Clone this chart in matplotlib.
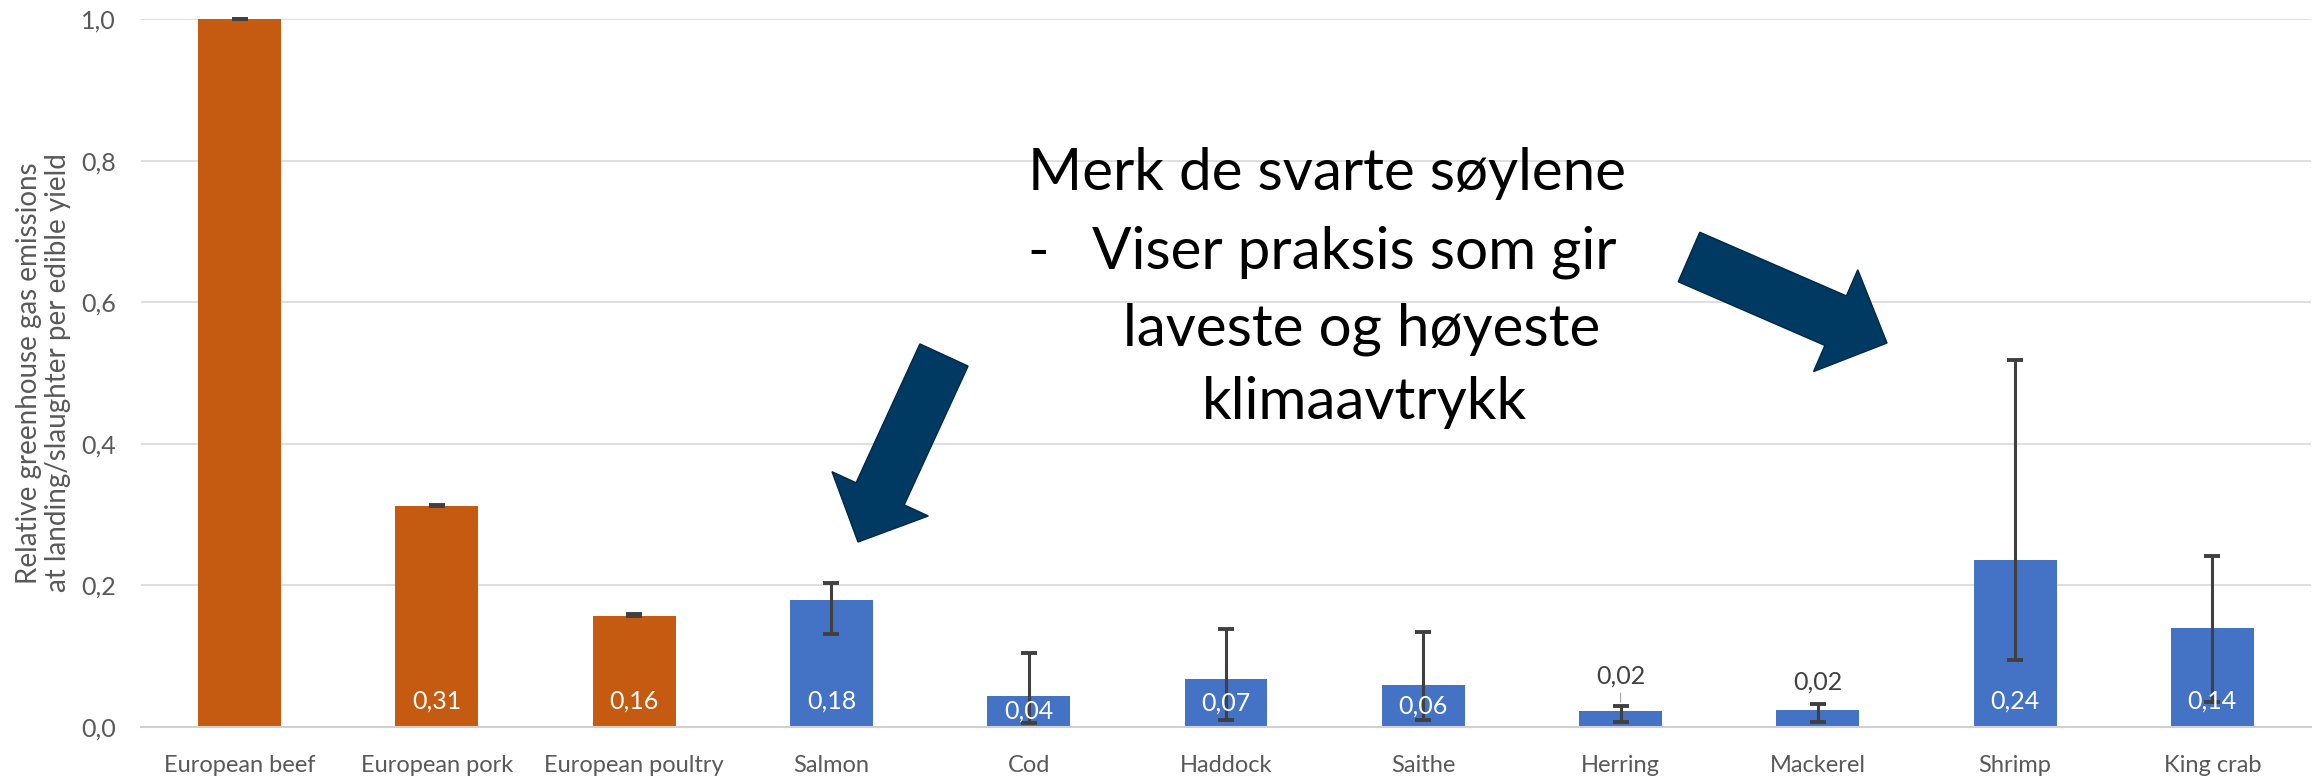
#!/usr/bin/env python3
"""
Relative greenhouse gas emissions per edible yield, meat vs seafood,
with min/max error bars and a Norwegian annotation.
"""

import matplotlib
matplotlib.use("Agg")
import matplotlib.pyplot as plt
import matplotlib.patches as mpatches
from matplotlib.transforms import IdentityTransform
import numpy as np

# Data
categories = ['European beef', 'European pork', 'European poultry', 'Salmon', 'Cod',
              'Haddock', 'Saithe', 'Herring', 'Mackerel', 'Shrimp', 'King crab']
values = [1.0, 0.312, 0.157, 0.179, 0.044, 0.068, 0.060, 0.022, 0.024, 0.236, 0.140]
err_low = [1.0, 0.312, 0.157, 0.132, 0.006, 0.0095, 0.0095, 0.0075, 0.0075, 0.095, 0.035]
err_high = [1.0, 0.313, 0.160, 0.204, 0.105, 0.139, 0.134, 0.029, 0.032, 0.519, 0.242]
labels = ['', '0,31', '0,16', '0,18', '0,04', '0,07', '0,06', '0,02', '0,02', '0,24', '0,14']
group = ['meat'] * 3 + ['fish'] * 8

# labels placed above the bar (in points above the error bar top)
outside_labels = {7: 22, 8: 16}

W, H = 2323, 778
ORANGE = '#C55A11'
BLUE = '#4472C4'
NAVY = '#003A63'
GREY_TXT = '#595959'
FONT = ['Lato', 'DejaVu Sans']


def px(x, y):
    """pixel coords (top-left origin) -> figure fraction"""
    return x / W, 1 - y / H


def main():
    plt.rcParams['font.family'] = FONT

    fig = plt.figure(figsize=(W / 100, H / 100), dpi=100)
    ax = fig.add_axes([141 / W, 51 / H, 2170 / W, 708 / H])

    x = np.arange(len(categories))
    colors = [ORANGE if g == 'meat' else BLUE for g in group]
    ax.bar(x, values, width=0.42, color=colors, zorder=2)

    vals = np.array(values)
    yerr = np.vstack([vals - np.array(err_low), np.array(err_high) - vals])
    ax.errorbar(x, vals, yerr=yerr, fmt='none', ecolor='#404040',
                elinewidth=2.2, capsize=6, capthick=2.8, zorder=3, clip_on=False)

    # data labels
    for i, (v, lab) in enumerate(zip(values, labels)):
        if not lab:
            continue
        if i in outside_labels:
            arrow = dict(arrowstyle='-', color='#A6A6A6', lw=0.8,
                         shrinkA=2, shrinkB=3) if i == 7 else None
            ax.annotate(lab, xy=(i, err_high[i]), xytext=(0, outside_labels[i]),
                        textcoords='offset points', ha='center', va='center',
                        fontsize=18, color='#404040', arrowprops=arrow, zorder=4)
        else:
            ax.text(i, min(0.036, v / 2), lab, ha='center', va='center',
                    fontsize=18, color='white', zorder=4)

    # axes styling
    ax.set_ylim(0, 1.0)
    ax.set_xlim(-0.5, len(categories) - 0.5)
    ticks = np.arange(0, 1.01, 0.2)
    ax.set_yticks(ticks)
    ax.set_yticklabels([f'{t:.1f}'.replace('.', ',') for t in ticks])
    ax.set_xticks(x)
    ax.set_xticklabels(categories)
    ax.tick_params(axis='both', length=0, colors=GREY_TXT)
    ax.tick_params(axis='y', pad=18, labelsize=18)
    ax.tick_params(axis='x', pad=20, labelsize=17)
    ax.yaxis.grid(True, color='#D9D9D9', lw=1.2, zorder=0)
    ax.set_axisbelow(True)
    for s in ['top', 'right', 'left']:
        ax.spines[s].set_visible(False)
    ax.spines['bottom'].set_color('#D0D0D0')
    ax.spines['bottom'].set_linewidth(1.5)

    ax.set_ylabel('Relative greenhouse gas emissions\nat landing/slaughter per edible yield',
                  fontsize=20, color=GREY_TXT, labelpad=7, linespacing=1.15)

    # annotation text
    big = dict(fontsize=42, color='black', va='center')
    fig.text(*px(1327, 173), 'Merk de svarte søylene', ha='center', **big)
    fig.text(*px(1027, 252), '-', ha='left', **big)
    fig.text(*px(1092, 252), 'Viser praksis som gir', ha='left', **big)
    fig.text(*px(1362, 329), 'laveste og høyeste', ha='center', **big)
    fig.text(*px(1364, 403), 'klimaavtrykk', ha='center', **big)

    # block arrows (pixel space, y flipped)
    def block_arrow(tail, tip, width, head_width, head_length):
        x0, y0 = tail[0], H - tail[1]
        x1, y1 = tip[0], H - tip[1]
        arr = mpatches.FancyArrow(x0, y0, x1 - x0, y1 - y0, width=width,
                                  head_width=head_width, head_length=head_length,
                                  length_includes_head=True, transform=IdentityTransform(),
                                  facecolor=NAVY, edgecolor='#002846', lw=1)
        fig.patches.append(arr)

    block_arrow((944, 355), (858, 542), 53, 106, 53)
    block_arrow((1689, 257), (1887, 343), 54, 111, 56)

    fig.savefig('out.png', dpi=100)


if __name__ == "__main__":
    main()
